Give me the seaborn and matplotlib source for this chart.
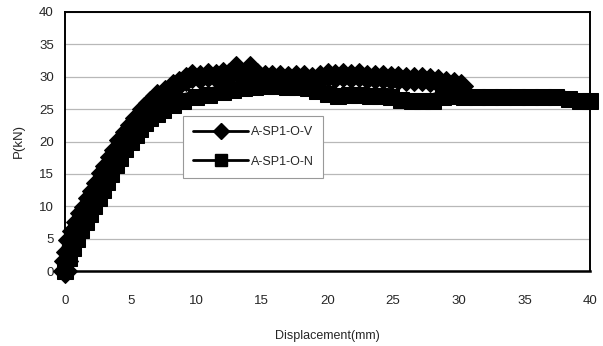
import matplotlib
matplotlib.use("Agg")
import matplotlib.pyplot as plt
from matplotlib.lines import Line2D
import seaborn as sns
import pandas as pd

# Series A-SP1-O-V (diamonds): displacement (mm), load (kN)
v_disp = [0.0, 0.1, 0.25, 0.4, 0.7, 1.0, 1.3, 1.6, 1.9, 2.2, 2.5, 2.9, 3.2, 3.6,
          3.9, 4.3, 4.7, 5.1, 5.5, 6.0, 6.5, 7.0, 7.6, 8.2, 8.7, 9.2, 9.7, 10.3,
          10.9, 11.5, 12.0, 12.5, 13.0, 13.5, 14.1, 14.6, 15.2, 15.8, 16.4, 17.0,
          17.6, 18.2, 18.8, 19.4, 20.0, 20.6, 21.2, 21.8, 22.4, 23.0, 23.6, 24.2,
          24.8, 25.4, 26.0, 26.6, 27.2, 27.8, 28.4, 29.0, 29.6, 30.2]
v_load = [0.0, 1.5, 3.0, 4.8, 6.2, 7.6, 8.9, 9.9, 11.2, 12.4, 13.6, 15.1, 16.2,
          17.6, 18.7, 20.2, 21.4, 22.6, 23.7, 25.0, 26.0, 27.0, 27.7, 28.5,
          29.0, 29.6, 30.1, 30.0, 30.3, 30.1, 30.5, 30.2, 31.3, 30.3, 31.4, 30.2,
          30.0, 29.9, 30.0, 29.8, 29.9, 29.9, 29.6, 29.9, 30.3, 30.1, 30.3, 30.1,
          30.2, 30.0, 29.9, 29.9, 29.8, 29.8, 29.7, 29.6, 29.6, 29.5, 29.3, 29.1,
          28.9, 28.5]

# Series A-SP1-O-N (squares): displacement (mm), load (kN)
n_disp = [0.0, 0.3, 0.6, 0.9, 1.2, 1.6, 1.9, 2.2, 2.6, 2.9, 3.2, 3.5, 3.9, 4.2,
          4.6, 5.0, 5.4, 5.7, 6.1, 6.5, 7.0, 7.5, 8.2, 9.0, 10.0, 11.0, 12.0,
          12.8, 13.6, 14.5, 15.3, 16.1, 16.9, 17.7, 18.5, 19.2, 20.0, 20.8,
          21.6, 22.4, 23.2, 24.0, 24.8, 25.6, 26.4, 27.2, 28.0, 28.8, 29.6,
          30.4, 31.4, 32.4, 33.4, 34.4, 35.4, 36.4, 37.4, 38.4, 39.2, 40.0]
n_load = [0.0, 2.0, 3.6, 5.0, 6.3, 7.5, 8.8, 10.0, 11.3, 12.5, 13.7, 15.0, 16.3,
          17.5, 18.8, 20.0, 21.0, 22.0, 22.8, 23.6, 24.3, 24.9, 25.6, 26.3,
          26.8, 27.2, 27.6, 28.0, 28.2, 28.4, 28.5, 28.5, 28.4, 28.4, 28.2,
          27.8, 27.4, 27.1, 27.2, 27.2, 27.1, 27.0, 26.8, 26.4, 26.2, 26.2,
          26.3, 26.8, 27.0, 26.9, 26.9, 26.9, 26.9, 26.9, 26.9, 26.9, 26.9,
          26.6, 26.3, 26.3]

series_names = ["A-SP1-O-V", "A-SP1-O-N"]
x_ticks = [0, 5, 10, 15, 20, 25, 30, 35, 40]
y_ticks = [0, 5, 10, 15, 20, 25, 30, 35, 40]

sns.set_style("white")
plt.rcParams['font.family'] = ['Liberation Sans', 'DejaVu Sans']

fig = plt.figure(figsize=(6.03, 3.46), dpi=100)
ax = fig.add_axes([65 / 603, 1 - 271 / 346, 525 / 603, 259 / 346])

df_v = pd.DataFrame({"disp": v_disp, "load": v_load})
df_n = pd.DataFrame({"disp": n_disp, "load": n_load})

sns.lineplot(data=df_n, x="disp", y="load", ax=ax, sort=False, estimator=None,
             color="black", linewidth=10.5, marker="s", markersize=11,
             markeredgecolor="black", zorder=3, clip_on=False)
sns.lineplot(data=df_v, x="disp", y="load", ax=ax, sort=False, estimator=None,
             color="black", linewidth=10.5, marker="D", markersize=12,
             markeredgecolor="black", zorder=3, clip_on=False)
for ln in ax.lines:
    ln.set_solid_joinstyle("round")
    ln.set_solid_capstyle("round")

ax.set_xlim(0, 40)
ax.set_ylim(0, 40)
ax.set_xticks(x_ticks)
ax.set_yticks(y_ticks)
ax.yaxis.grid(True, color="#b8b8b8", linewidth=0.9)
ax.xaxis.grid(False)
ax.set_axisbelow(True)
for s in ax.spines.values():
    s.set_color("black")
    s.set_linewidth(1.4)
ax.spines["bottom"].set_linewidth(1.8)
ax.tick_params(axis="x", direction="in", length=3, width=0.8, color="#999999",
               pad=17, labelsize=9.5)
ax.tick_params(axis="y", direction="in", length=0, pad=8, labelsize=9.5)

ax.set_xlabel("Displacement(mm)", fontsize=9)
ax.set_ylabel("P(kN)", fontsize=9.5)
ax.xaxis.set_label_coords(0.5, -0.228)
ax.yaxis.set_label_coords(-0.077, 0.5)

handles = [Line2D([0], [0], color="black", linewidth=2, marker="D", markersize=8),
           Line2D([0], [0], color="black", linewidth=2, marker="s", markersize=8)]
leg = ax.legend(handles, series_names, loc="upper left",
                bbox_to_anchor=(0.2248, 0.598), borderaxespad=0,
                fontsize=9, handlelength=4.4, frameon=True, fancybox=False,
                framealpha=1, edgecolor="#999999", labelspacing=1.4,
                borderpad=0.8, handletextpad=0.2)
leg.get_frame().set_linewidth(0.8)
leg.set_zorder(5)

fig.savefig("out.png", dpi=100, facecolor="white")
